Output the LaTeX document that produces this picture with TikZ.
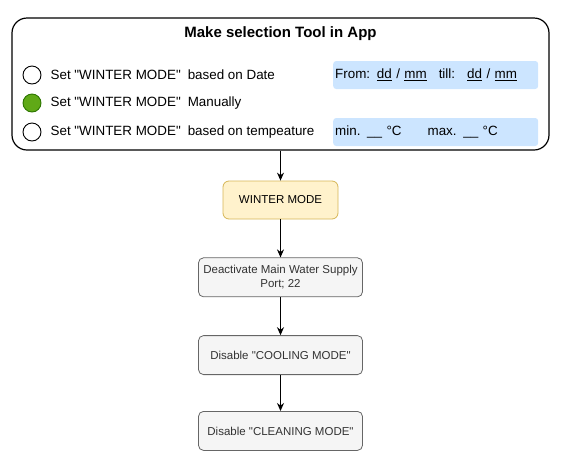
\documentclass[tikz,border=0pt]{standalone}
\usepackage{fontspec}
\setmainfont{Liberation Sans}[Ligatures=TeXOff]
\usetikzlibrary{arrows.meta, positioning}

\definecolor{fieldblue}{HTML}{CCE5FF}
\definecolor{radiogreen}{HTML}{60A917}
\definecolor{radioline}{HTML}{2D7600}
\definecolor{winterfill}{HTML}{FFF2CC}
\definecolor{winterline}{HTML}{D6B656}
\definecolor{stepfill}{HTML}{F5F5F5}
\definecolor{stepline}{HTML}{666666}
\definecolor{steptext}{HTML}{333333}

\begin{document}
\begin{tikzpicture}[
        x=1pt, y=-1pt,
        every node/.style={font=\fontsize{13.4}{15}\selectfont},
        panel/.style={draw, line width=1.2pt, rounded corners=15pt, minimum width=537pt, minimum height=132pt},
        radio/.style={draw, circle, line width=0.9pt, minimum size=18pt, inner sep=0pt},
        choice/.style={anchor=west, inner sep=0pt},
        field/.style={fill=fieldblue, rounded corners=3pt, anchor=west, inner sep=2pt,
            text width=201pt, minimum height=28pt, align=left},
        modebox/.style={draw=winterline, fill=winterfill, rounded corners=6pt, line width=0.8pt,
            minimum width=115pt, minimum height=38pt, font=\fontsize{11.5}{14}\selectfont},
        stepbox/.style={draw=stepline, fill=stepfill, text=steptext, rounded corners=5pt, line width=0.8pt,
            minimum width=164pt, minimum height=39pt, align=center, font=\fontsize{11.5}{14}\selectfont},
        arrow/.style={-{Stealth[length=8pt, width=7pt]}, line width=1pt}
        ]

        \useasboundingbox (0,0) rectangle (574,459);

        % Selection tool
        \node[panel] (tool) at (280.5,84) {};
        \node[font=\fontsize{15}{18}\selectfont\bfseries] (title) at (280.5,34) {Make selection Tool in App};

        % Radio buttons
        \node[radio] (dateradio) at (32,75) {};
        \node[radio, draw=radioline, fill=radiogreen] (manualradio) at (32,103) {};
        \node[radio] (tempradio) at (32,132) {};

        \node[choice, right=9pt of dateradio] (date) {Set "WINTER MODE"\hspace{7pt}based on Date};
        \node[choice, right=9pt of manualradio] (manual) {Set "WINTER MODE"\hspace{7pt}Manually};
        \node[choice, right=9pt of tempradio] (temp) {Set "WINTER MODE"\hspace{7pt}based on tempeature};

        % Input fields
        \node[field] (datefield) at (333,75) {From: \underline{dd} / \underline{mm}\hspace{12pt}till:\hspace{12pt}\underline{dd} / \underline{mm}};
        \node[field] (tempfield) at (333,132) {min. \_\_ °C\hspace{26pt}max. \_\_ °C};

        % Chain
        \node[modebox] (winter) at (280.5,200) {WINTER MODE};
        \node[stepbox, below=38pt of winter] (supply) {Deactivate Main Water Supply\\Port; 22};
        \node[stepbox, below=38pt of supply] (cooling) {Disable "COOLING MODE"};
        \node[stepbox, below=36pt of cooling] (cleaning) {Disable "CLEANING MODE"};

        % Arrows
        \draw [arrow] (tool) -- (winter);
        \draw [arrow] (winter) -- (supply);
        \draw [arrow] (supply) -- (cooling);
        \draw [arrow] (cooling) -- (cleaning);
    \end{tikzpicture}
\end{document}
